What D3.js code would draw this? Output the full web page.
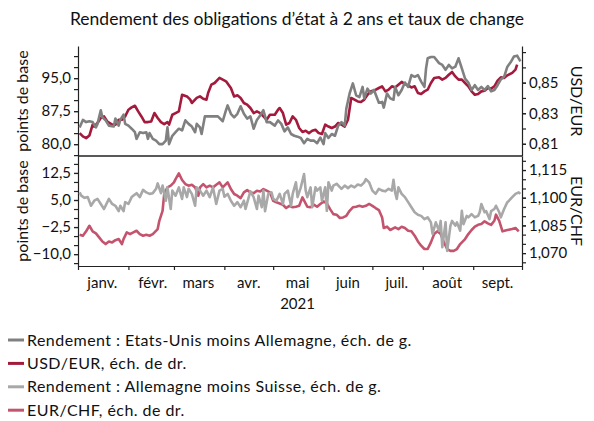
<!DOCTYPE html>
<html>
<head>
<meta charset="utf-8">
<script src="https://cdn.jsdelivr.net/npm/d3@7"></script>
<style>
  body { margin: 0; background: #fff; }
  svg text { font-family: Lato, "Open Sans", sans-serif; fill: #111; }
  .axis path, .axis line { stroke: #222; stroke-width: 1.2; }
</style>
</head>
<body>
<div id="chart"></div>
<script>
// jours depuis le 1er janvier 2021 et valeurs
var usDeDays = [1,3,5,7,9,11,12,14,15,17,19,22,23,25,26,28,29,31,33,35,36,38,40,42,43,44,46,48,50,52,54,55,56,58,60,62,64,66,68,70,72,73,75,76,78,83,86,89,91,92,94,96,98,100,102,104,106,108,110,112,114,116,118,121,123,125,127,129,131,133,135,137,139,141,143,145,147,149,151,152,154,156,158,160,162,164,165,167,169,171,173,175,176,178,180,182,185,187,188,190,192,194,195,197,199,201,203,205,207,209,211,213,214,215,217,219,222,224,226,228,230,232,234,236,238,240,242,244,246,248,250,252,254,256,258,260,262,264,266,268,270,272];
var usDeVals = [83.8,85.5,85.0,85.2,85.0,83.8,84.6,87.7,86.1,85.4,84.2,84.0,85.8,84.2,85.5,86.7,84.6,84.2,83.5,82.7,81.2,82.7,82.5,82.7,81.2,82.5,81.2,80.8,80.0,80.0,80.8,83.8,80.0,81.9,82.7,83.5,83.1,85.4,84.6,84.0,82.7,84.6,83.8,82.3,86.3,86.3,86.3,85.2,87.7,88.8,86.9,86.1,86.9,88.6,86.9,85.8,86.3,83.5,85.5,86.5,87.7,85.0,85.0,84.2,85.4,84.6,82.9,83.8,82.3,81.9,81.7,81.4,80.2,81.2,80.8,80.8,80.2,81.5,80.0,82.5,81.4,82.3,81.9,84.2,85.0,84.2,88.1,91.5,93.8,91.1,90.7,93.0,90.4,92.6,91.5,92.3,89.4,89.6,88.3,91.5,90.4,90.1,93.0,91.1,92.3,94.0,93.0,95.7,95.3,95.7,94.2,93.0,97.2,99.5,99.8,99.8,98.4,98.0,96.9,98.0,97.2,97.6,99.5,97.2,94.9,94.0,92.3,93.4,92.3,93.0,92.3,93.2,92.0,92.3,93.4,94.7,95.3,97.6,98.6,99.9,100.1,98.8];

var usdEurDays = [1,3,5,7,9,10,12,14,16,18,21,23,25,27,29,31,33,35,37,39,41,43,45,47,49,51,53,55,56,58,60,62,64,67,69,70,73,75,77,79,80,82,84,87,89,91,94,96,98,100,102,104,106,108,110,112,114,116,118,121,123,124,126,128,130,132,134,136,138,140,142,144,146,148,150,152,154,156,158,160,162,164,166,168,170,172,174,176,178,180,182,185,187,189,191,193,195,197,199,201,203,205,207,209,211,213,215,217,219,222,224,226,228,230,232,234,236,238,240,242,244,246,248,250,252,254,256,258,260,262,264,267,269,270];
var usdEurVals = [0.8170,0.8148,0.8137,0.8154,0.8225,0.8213,0.8236,0.8269,0.8279,0.8246,0.8225,0.8225,0.8257,0.8257,0.8279,0.8323,0.8338,0.8349,0.8312,0.8279,0.8242,0.8242,0.8246,0.8301,0.8269,0.8242,0.8229,0.8242,0.8225,0.8290,0.8301,0.8312,0.8421,0.8410,0.8389,0.8367,0.8400,0.8410,0.8395,0.8389,0.8432,0.8487,0.8498,0.8531,0.8520,0.8509,0.8465,0.8410,0.8417,0.8400,0.8367,0.8356,0.8334,0.8301,0.8312,0.8301,0.8279,0.8257,0.8290,0.8290,0.8323,0.8334,0.8301,0.8225,0.8236,0.8279,0.8257,0.8203,0.8177,0.8185,0.8170,0.8185,0.8192,0.8170,0.8164,0.8225,0.8213,0.8203,0.8213,0.8236,0.8225,0.8213,0.8257,0.8400,0.8389,0.8377,0.8373,0.8389,0.8421,0.8443,0.8448,0.8465,0.8476,0.8443,0.8454,0.8476,0.8469,0.8487,0.8505,0.8491,0.8482,0.8469,0.8476,0.8432,0.8426,0.8443,0.8454,0.8498,0.8531,0.8535,0.8520,0.8531,0.8552,0.8570,0.8541,0.8520,0.8520,0.8498,0.8476,0.8443,0.8421,0.8426,0.8443,0.8448,0.8465,0.8461,0.8476,0.8513,0.8535,0.8531,0.8548,0.8564,0.8585,0.8618];

var deChDays = [1,2,4,6,8,10,12,14,16,19,21,23,25,26,28,29,31,33,36,38,40,42,44,46,48,49,51,52,54,55,57,58,60,62,64,65,67,68,70,72,73,75,77,79,81,83,85,87,89,90,92,94,96,98,100,102,103,105,106,108,110,111,113,114,115,117,119,120,122,124,126,127,129,131,132,134,135,137,139,140,141,143,144,146,147,149,150,152,153,154,156,157,159,162,164,166,168,170,172,174,176,177,179,181,183,185,187,189,191,193,194,195,196,197,199,201,203,205,207,209,211,213,215,217,218,220,222,223,224,226,227,229,230,232,233,235,236,237,239,240,242,244,246,247,248,250,251,253,254,256,257,259,260,262,264,265,267,269,271,272];
var deChVals = [7.1,6.2,5.6,5.8,3.4,4.8,5.3,3.9,2.5,5.3,3.9,3.4,1.9,3.4,1.9,4.4,3.9,5.8,6.9,5.8,7.8,7.1,6.7,6.9,8.1,9.6,6.9,9.0,4.8,8.5,2.5,7.6,6.2,8.5,5.3,8.5,5.8,8.1,6.7,3.4,8.5,7.6,6.2,7.6,5.8,8.5,3.9,7.6,8.1,5.9,6.7,4.8,3.4,4.4,3.0,4.8,2.5,5.8,7.4,5.8,2.5,6.2,3.0,7.6,1.9,6.7,7.1,5.3,4.8,6.7,3.9,6.7,7.6,3.4,6.7,9.9,5.8,8.5,12.2,7.6,5.8,8.5,3.0,8.5,7.6,8.5,4.8,8.5,2.0,9.9,7.6,9.0,9.5,8.1,9.0,8.3,9.0,8.5,9.3,9.0,9.9,10.8,9.9,7.6,6.7,8.1,7.6,7.4,8.1,7.6,10.6,7.1,5.3,8.5,6.7,5.8,4.4,3.0,1.6,0.9,0.6,-0.3,0.2,-1.2,-4.4,-1.2,-3.5,-0.8,-8.1,-1.2,-9.1,-2.1,-0.8,-2.1,-1.2,-3.5,2.0,-1.7,0.6,0.2,1.1,0.2,0.6,1.6,3.9,1.6,1.9,-0.3,1.9,2.5,3.4,1.6,0.2,2.5,4.4,4.8,5.8,6.7,7.1,6.7];

var eurChfDays = [1,3,5,7,9,11,13,15,17,19,21,23,25,27,28,30,32,34,36,38,40,42,44,46,49,50,52,53,55,57,59,60,62,64,66,68,70,72,74,75,77,79,81,83,85,87,89,92,94,96,98,100,102,104,106,108,110,112,114,116,118,120,122,124,126,128,130,132,134,136,138,141,143,145,147,149,151,153,155,157,159,161,163,165,167,169,171,173,175,177,179,181,183,185,187,188,190,192,195,197,199,201,203,205,207,209,211,213,215,217,219,221,223,225,227,229,231,233,235,238,240,242,244,246,248,250,252,254,256,257,259,261,264,267,269,271];
var eurChfVals = [1.0799,1.0794,1.0818,1.0848,1.0818,1.0807,1.0785,1.0763,1.0749,1.0763,1.0758,1.0770,1.0776,1.0749,1.0776,1.0812,1.0803,1.0812,1.0821,1.0803,1.0794,1.0799,1.0794,1.0803,1.0830,1.0875,1.0929,1.1020,1.1056,1.1065,1.1083,1.1101,1.1132,1.1096,1.1074,1.1065,1.1070,1.1056,1.1011,1.1056,1.1074,1.1056,1.1065,1.1056,1.1070,1.1083,1.1056,1.1083,1.1047,1.1020,1.1011,1.0998,1.1029,1.1041,1.1029,1.1024,1.1038,1.1034,1.1047,1.1038,1.1029,1.0983,1.0975,1.0969,1.0962,1.0944,1.0956,1.0948,1.0951,1.0956,1.1002,1.0951,1.0948,1.0962,1.0951,1.0966,1.0980,1.0969,1.0938,1.0911,1.0908,1.0890,1.0893,1.0902,1.0929,1.0948,1.0951,1.0956,1.0951,1.0956,1.0966,1.0956,1.0944,1.0933,1.0893,1.0836,1.0843,1.0825,1.0839,1.0830,1.0843,1.0836,1.0821,1.0818,1.0794,1.0763,1.0740,1.0722,1.0722,1.0758,1.0803,1.0818,1.0803,1.0758,1.0722,1.0712,1.0712,1.0722,1.0749,1.0776,1.0803,1.0825,1.0843,1.0853,1.0857,1.0872,1.0861,1.0853,1.0875,1.0908,1.0875,1.0818,1.0825,1.0830,1.0836,1.0818];

var monthLabels = ["janv.", "févr.", "mars", "avr.", "mai", "juin", "juil.", "août", "sept."];
var topLeftTicks = [80, 87.5, 95];
var topRightTicks = [0.81, 0.83, 0.85];
var botLeftTicks = [-10, -2.5, 5, 12.5];
var botRightTicks = [1.070, 1.085, 1.100, 1.115];
var legendLabels = [
  "Rendement : Etats-Unis moins Allemagne, éch. de g.",
  "USD/EUR, éch. de dr.",
  "Rendement : Allemagne moins Suisse, éch. de g.",
  "EUR/CHF, éch. de dr."
];
var colors = ["#808080", "#a31a3c", "#a8a8a8", "#c4546d"];

var w = 594, h = 421;
var left = 78, right = 522;
var topY0 = 46, midY = 156, botY1 = 266;

var fr = d3.formatLocale({decimal: ",", thousands: " ", grouping: [3], currency: ["", " €"]});

var svg = d3.select('#chart').
append('svg').
attr('width', w).
attr('height', h);

var start = new Date(2021, 0, 1);
function day(d) { return d3.timeDay.offset(start, d); }

var x = d3.scaleTime().
domain([start, new Date(2021, 9, 1)]).
range([left, right]);

var yTL = d3.scaleLinear().domain([77.3, 102.3]).range([midY, topY0]);
var yTR = d3.scaleLinear().domain([0.802, 0.874]).range([midY, topY0]);
var yBL = d3.scaleLinear().domain([-13.3, 17.2]).range([botY1, midY]);
var yBR = d3.scaleLinear().domain([1.063, 1.1226]).range([botY1, midY]);

svg.append('text').
attr('x', w / 2).
attr('y', 25).
attr('text-anchor', 'middle').
style('font-size', '17.5px').
text("Rendement des obligations d’état à 2 ans et taux de change");

// axes gauche / droite, graduations mineures + majeures
function yAxis(scale, side, minor, major, fmt) {
  var xPos = side == 'left' ? left : right;
  var mk = side == 'left' ? d3.axisLeft : d3.axisRight;
  svg.append('g').
  attr('class', 'axis').
  attr('transform', 'translate(' + xPos + ',0)').
  call(mk(scale).tickValues(minor).tickFormat('').tickSize(4).tickSizeOuter(0));
  var g = svg.append('g').
  attr('class', 'axis').
  attr('transform', 'translate(' + xPos + ',0)').
  call(mk(scale).tickValues(major).tickFormat(fr.format(fmt)).tickSize(4).tickPadding(3));
  g.select('.domain').remove();
  g.selectAll('text').style('font-size', '15px').style('font-family', 'Lato, sans-serif').attr('fill', '#111');
}

yAxis(yTL, 'left', d3.range(77.5, 102.4, 2.5), topLeftTicks, '.1f');
yAxis(yTR, 'right', d3.range(0.81, 0.8741, 0.01), topRightTicks, '.2f');
yAxis(yBL, 'left', d3.range(-12.5, 17.3, 2.5), botLeftTicks, '.1f');
yAxis(yBR, 'right', d3.range(1.065, 1.1226, 0.005), botRightTicks, '.3f');

svg.append('line').
attr('x1', left).attr('x2', right).
attr('y1', midY).attr('y2', midY).
attr('stroke', '#222').attr('stroke-width', 1.6);

svg.append('g').
attr('class', 'axis').
attr('transform', 'translate(0,' + botY1 + ')').
call(d3.axisBottom(x).ticks(d3.timeMonth.every(1)).tickFormat('').tickSize(4).tickSizeOuter(0));

svg.selectAll('.month').
data(monthLabels).
enter().
append('text').
attr('class', 'month').
attr('x', (d, i) => x(new Date(2021, i, 16))).
attr('y', 288).
attr('text-anchor', 'middle').
style('font-size', '15px').
text(d => d);

svg.append('text').
attr('x', x(new Date(2021, 4, 16))).
attr('y', 309).
attr('text-anchor', 'middle').
style('font-size', '15px').
text('2021');

// titres d'axes
function axisTitle(tx, ty, rot, label) {
  svg.append('text').
  attr('transform', 'translate(' + tx + ',' + ty + ') rotate(' + rot + ')').
  attr('text-anchor', 'middle').
  style('font-size', '16px').
  text(label);
}
axisTitle(28, 101, -90, 'points de base');
axisTitle(28, 211, -90, 'points de base');
axisTitle(571, 101, 90, 'USD/EUR');
axisTitle(571, 211, 90, 'EUR/CHF');

function series(days, vals, ys, color) {
  var pts = days.map((d, i) => [day(d), vals[i]]);
  var line = d3.line().x(d => x(d[0])).y(d => ys(d[1]));
  svg.append('path').
  datum(pts).
  attr('fill', 'none').
  attr('stroke', color).
  attr('stroke-width', 2.6).
  attr('stroke-linejoin', 'round').
  attr('d', line);
}

series(usdEurDays, usdEurVals, yTR, colors[1]);
series(usDeDays, usDeVals, yTL, colors[0]);
series(eurChfDays, eurChfVals, yBR, colors[3]);
series(deChDays, deChVals, yBL, colors[2]);

var legend = svg.selectAll('.legend').
data(legendLabels).
enter().
append('g').
attr('class', 'legend').
attr('transform', (d, i) => 'translate(0,' + (340 + i * 23.4) + ')');

legend.append('line').
attr('x1', 8).attr('x2', 24).
attr('y1', 0).attr('y2', 0).
attr('stroke', (d, i) => colors[i]).
attr('stroke-width', 3);

legend.append('text').
attr('x', 27).
attr('y', 5.5).
style('font-size', '16px').
style('letter-spacing', '0.45px').
text(d => d);
</script>
</body>
</html>
